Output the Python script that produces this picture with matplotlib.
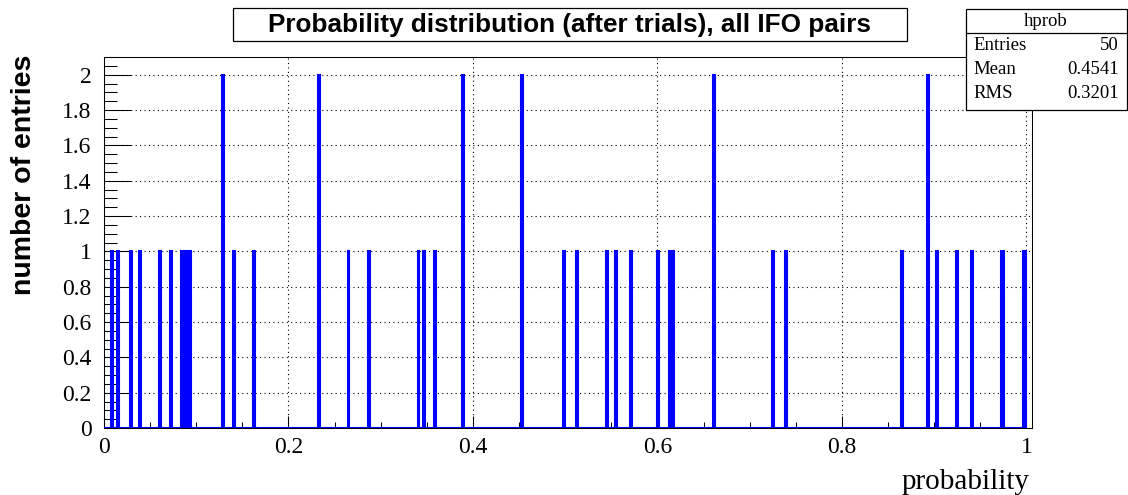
import numpy as np
import matplotlib
matplotlib.use("Agg")
import matplotlib.pyplot as plt
from matplotlib.patches import Rectangle
from matplotlib.lines import Line2D
from matplotlib.ticker import MultipleLocator, FuncFormatter

# ---- data: probability of each IFO-pair trial (entries inside the axis range) ----
probabilities = [
    0.0087, 0.0149, 0.0295, 0.0394, 0.0615, 0.0738,
    0.0850, 0.0870, 0.0890, 0.0910, 0.0930,
    0.1285, 0.1292, 0.1420, 0.1623,
    0.2322, 0.2328, 0.2658, 0.2865,
    0.3406, 0.3469, 0.3596, 0.3884, 0.3889,
    0.4525, 0.4532, 0.4993, 0.5130, 0.5442, 0.5559, 0.5717,
    0.6008, 0.6130, 0.6170, 0.6612, 0.6618,
    0.7246, 0.7387, 0.8656, 0.8925, 0.8932, 0.9020,
    0.9253, 0.9405, 0.9725, 0.9745, 0.9965, 0.9985,
]
n_bins = 500
hist_range = (0.0, 1.0)

title_text = "Probability distribution (after trials), all IFO pairs"
x_title = "probability"
y_title = "number of entries"

stats_name = "hprob"
stats_labels = ["Entries", "Mean", "RMS"]
stats_values = ["50", "0.4541", "0.3201"]

# ---- figure ----
W, H = 1128, 495
fig = plt.figure(figsize=(W / 100, H / 100), dpi=100)
fig.patch.set_facecolor("white")


def fx(px):
    return px / W


def fy(py):
    return 1 - py / H


serif = ["Liberation Serif", "DejaVu Serif"]
sans = ["Liberation Sans", "DejaVu Sans"]

ax = fig.add_axes([fx(104), fy(428), fx(1032) - fx(104), fy(57) - fy(428)])

counts, edges = np.histogram(probabilities, bins=n_bins, range=hist_range)
ax.stairs(counts, edges, fill=True, color="blue", lw=0, zorder=3)
ax.stairs(counts, edges, color="blue", lw=1.5, zorder=3)

ax.set_xlim(0, 1.006)
ax.set_ylim(0, 2.1)

ax.xaxis.set_major_locator(MultipleLocator(0.2))
ax.xaxis.set_minor_locator(MultipleLocator(0.05))
ax.yaxis.set_major_locator(MultipleLocator(0.2))
ax.yaxis.set_minor_locator(MultipleLocator(0.05))
fmt = FuncFormatter(lambda v, p: "%g" % round(v, 3))
ax.xaxis.set_major_formatter(fmt)
ax.yaxis.set_major_formatter(fmt)

ax.tick_params(axis="both", which="both", direction="in", width=0.75,
               color="black", top=False, right=False)
ax.tick_params(axis="y", which="major", length=19.5, pad=9.0, labelsize=17)
ax.tick_params(axis="y", which="minor", length=9.7)
ax.tick_params(axis="x", which="major", length=8.6, pad=6.5, labelsize=17)
ax.tick_params(axis="x", which="minor", length=4.3)
for lab in ax.get_xticklabels() + ax.get_yticklabels():
    lab.set_fontfamily(serif)

ax.grid(which="major", color="black", lw=0.8, linestyle=(0, (1, 3.0)), zorder=1)
ax.set_axisbelow(True)
for sp in ax.spines.values():
    sp.set_linewidth(0.75)
    sp.set_color("black")

# axis titles
fig.text(fx(24), fy(55), y_title, rotation=90, ha="center", va="top",
         fontsize=20.5, fontweight="bold", family=sans)
fig.text(fx(1030), fy(489), x_title, ha="right", va="baseline",
         fontsize=21, family=serif)

# title box
fig.patches.append(Rectangle((fx(233), fy(41)), fx(907) - fx(233), fy(8) - fy(41),
                             transform=fig.transFigure, facecolor="white",
                             edgecolor="black", lw=0.9))
fig.text(fx(570), fy(25), title_text, ha="center", va="center",
         fontsize=18.8, fontweight="bold", family=sans)

# statistics box
fig.patches.append(Rectangle((fx(966), fy(110)), fx(1127) - fx(966), fy(9) - fy(110),
                             transform=fig.transFigure, facecolor="white",
                             edgecolor="black", lw=0.9, zorder=5))
fig.lines.append(Line2D([fx(966), fx(1127)], [fy(33), fy(33)],
                        transform=fig.transFigure, color="black", lw=0.9, zorder=6))
fig.text(fx(1046), fy(21), stats_name, ha="center", va="center",
         fontsize=13.5, family=serif, zorder=7)
for i, (lab, val) in enumerate(zip(stats_labels, stats_values)):
    yy = fy(45 + 24.5 * i)
    fig.text(fx(973), yy, lab, ha="left", va="center", fontsize=13.5,
             family=serif, zorder=7)
    fig.text(fx(1119), yy, val, ha="right", va="center", fontsize=13.5,
             family=serif, zorder=7)

fig.savefig("out.png", dpi=100)
